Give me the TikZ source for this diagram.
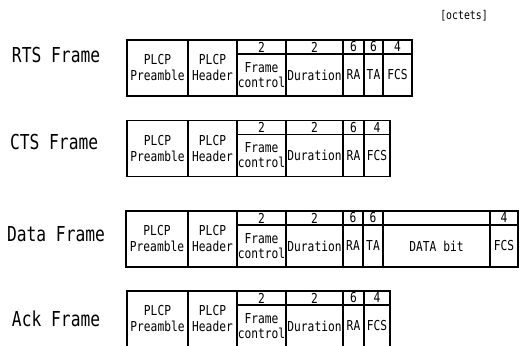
\documentclass[tikz,border=0pt]{standalone}
\usepackage{fontspec}
\usepackage{tikz}
\usetikzlibrary{positioning}
\newfontfamily\gothic[FakeStretch=0.82]{DejaVu Sans Mono}
\newfontfamily\gothicbig[FakeStretch=0.79]{DejaVu Sans Mono}
\tikzset{x=1pt, y=1pt,
every node/.style={inner sep=0pt, outer sep=0pt},
frame label/.style={anchor=west, font=\fontsize{20.6}{24}\gothicbig},
cell/.style={draw, line width=1.1pt, align=center, minimum height=56pt, font=\fontsize{13.7}{16}\gothic},
num/.style={draw, line width=1.1pt, minimum height=14pt, anchor=north west, font=\fontsize{13.7}{16}\gothic},
field/.style={draw, line width=1.1pt, align=center, minimum height=42pt, below=0pt of #1, font=\fontsize{13.7}{15}\gothic},
}

\begin{document}
\begin{tikzpicture}
    \useasboundingbox (0,0) rectangle (521,345);
    \node[font=\fontsize{12}{14}\gothic] (unit) at (464,329) {[octets]};

    % RTS
    \node[frame label] (rtsLabel) at (12,290) {RTS Frame};
    \node[cell, minimum width=61pt, anchor=north west] (rtsPre) at (127,305) {PLCP\\Preamble};
    \node[cell, minimum width=49pt, right=0pt of rtsPre] (rtsHdr) {PLCP\\Header};
    \coordinate (rtsN0) at (rtsHdr.north east);
    \foreach \w/\n/\t [count=\i, remember=\i as \j (initially 0)] in
        {49/2/{Frame\\control}, 57/2/Duration, 21/6/RA, 19/6/TA, 29/4/FCS} {
        \node[num, minimum width=\w pt] (rtsN\i) at (rtsN\j.north east) {\n};
        \node[field=rtsN\i, minimum width=\w pt] (rtsF\i) {\t};
    }

    % CTS
    \node[frame label] (ctsLabel) at (10,203) {CTS Frame};
    \node[cell, minimum width=61pt, anchor=north west] (ctsPre) at (127,224.5) {PLCP\\Preamble};
    \node[cell, minimum width=49pt, right=0pt of ctsPre] (ctsHdr) {PLCP\\Header};
    \coordinate (ctsN0) at (ctsHdr.north east);
    \foreach \w/\n/\t [count=\i, remember=\i as \j (initially 0)] in
        {49/2/{Frame\\control}, 57/2/Duration, 21/6/RA, 26/4/FCS} {
        \node[num, minimum width=\w pt] (ctsN\i) at (ctsN\j.north east) {\n};
        \node[field=ctsN\i, minimum width=\w pt] (ctsF\i) {\t};
    }

    % Data
    \node[frame label] (dataLabel) at (7,111) {Data Frame};
    \node[cell, minimum width=62pt, anchor=north west] (dataPre) at (126,134) {PLCP\\Preamble};
    \node[cell, minimum width=49pt, right=0pt of dataPre] (dataHdr) {PLCP\\Header};
    \coordinate (dataN0) at (dataHdr.north east);
    \foreach \w/\n/\t [count=\i, remember=\i as \j (initially 0)] in
        {49/2/{Frame\\control}, 57/2/Duration, 20/6/RA, 20/6/TA, 107/{}/DATA bit, 28/4/FCS} {
        \node[num, minimum width=\w pt] (dataN\i) at (dataN\j.north east) {\n};
        \node[field=dataN\i, minimum width=\w pt] (dataF\i) {\t};
    }

    % Ack
    \node[frame label] (ackLabel) at (12,26) {Ack Frame};
    \node[cell, minimum width=61pt, anchor=north west] (ackPre) at (127,54) {PLCP\\Preamble};
    \node[cell, minimum width=49pt, right=0pt of ackPre] (ackHdr) {PLCP\\Header};
    \coordinate (ackN0) at (ackHdr.north east);
    \foreach \w/\n/\t [count=\i, remember=\i as \j (initially 0)] in
        {49/2/{Frame\\control}, 57/2/Duration, 21/6/RA, 26/4/FCS} {
        \node[num, minimum width=\w pt] (ackN\i) at (ackN\j.north east) {\n};
        \node[field=ackN\i, minimum width=\w pt] (ackF\i) {\t};
    }
\end{tikzpicture}
\end{document}
